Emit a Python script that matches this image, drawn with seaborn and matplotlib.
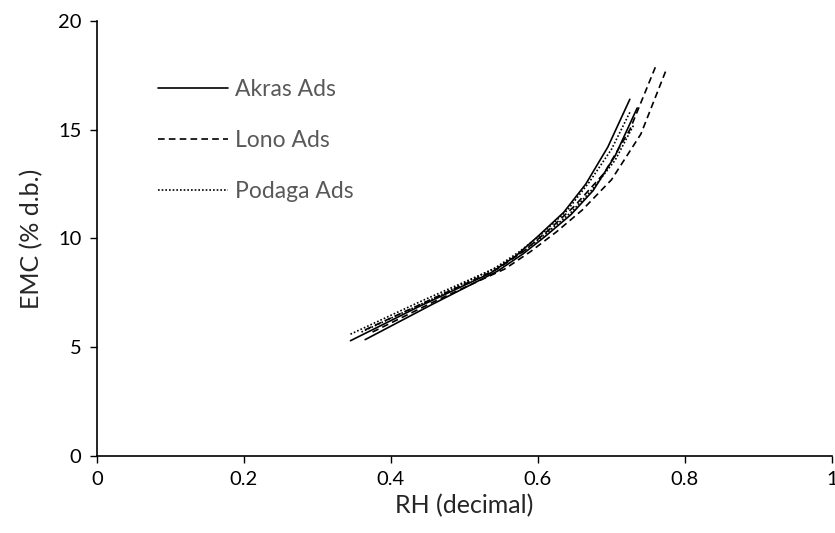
import matplotlib
matplotlib.use("Agg")
import matplotlib.pyplot as plt
import seaborn as sns
import pandas as pd

# RH (decimal) and EMC (% d.b.), two curves per material
akras1_rh = [0.345, 0.44, 0.535, 0.57, 0.60, 0.635, 0.665, 0.695, 0.725]
akras1_emc = [5.3, 6.9, 8.4, 9.2, 10.1, 11.2, 12.5, 14.2, 16.4]
akras2_rh = [0.365, 0.455, 0.545, 0.58, 0.61, 0.645, 0.675, 0.705, 0.735]
akras2_emc = [5.35, 6.95, 8.5, 9.3, 10.1, 11.1, 12.2, 13.8, 16.0]
lono1_rh = [0.365, 0.455, 0.545, 0.58, 0.615, 0.65, 0.69, 0.725, 0.76]
lono1_emc = [5.8, 7.2, 8.6, 9.4, 10.4, 11.5, 13.0, 15.0, 17.9]
lono2_rh = [0.375, 0.465, 0.555, 0.59, 0.625, 0.66, 0.70, 0.74, 0.775]
lono2_emc = [5.7, 7.2, 8.6, 9.4, 10.3, 11.3, 12.7, 14.8, 17.8]
podaga1_rh = [0.345, 0.44, 0.54, 0.575, 0.605, 0.64, 0.67, 0.70, 0.725]
podaga1_emc = [5.6, 7.1, 8.6, 9.4, 10.2, 11.3, 12.6, 14.1, 15.8]
podaga2_rh = [0.36, 0.455, 0.545, 0.58, 0.61, 0.645, 0.675, 0.705, 0.73]
podaga2_emc = [5.7, 7.2, 8.7, 9.4, 10.2, 11.2, 12.3, 13.6, 15.2]

materials = ['Akras Ads', 'Lono Ads', 'Podaga Ads']

curves = [
    ('Akras Ads', 'a1', akras1_rh, akras1_emc),
    ('Akras Ads', 'a2', akras2_rh, akras2_emc),
    ('Lono Ads', 'l1', lono1_rh, lono1_emc),
    ('Lono Ads', 'l2', lono2_rh, lono2_emc),
    ('Podaga Ads', 'p1', podaga1_rh, podaga1_emc),
    ('Podaga Ads', 'p2', podaga2_rh, podaga2_emc),
]
rows = []
for mat, cid, rh, emc in curves:
    for x, y in zip(rh, emc):
        rows.append({'material': mat, 'curve': cid, 'RH': x, 'EMC': y})
df = pd.DataFrame(rows)

sns.set_style('white')
plt.rcParams['font.family'] = ['Lato', 'DejaVu Sans']

fig = plt.figure(figsize=(8.35, 5.33), dpi=100)
ax = fig.add_axes([0.116, 0.1445, 0.8804, 0.8161])

sns.lineplot(data=df, x='RH', y='EMC', style='material', units='curve',
             estimator=None, sort=False, color='black', lw=1.2, ax=ax,
             style_order=materials,
             dashes={'Akras Ads': '', 'Lono Ads': (4, 2.5), 'Podaga Ads': (1, 1.2)})

ax.set_xlim(0, 1)
ax.set_ylim(0, 20)
ax.set_xticks([0, 0.2, 0.4, 0.6, 0.8, 1])
ax.set_xticklabels(['0', '0.2', '0.4', '0.6', '0.8', '1'])
ax.set_yticks([0, 5, 10, 15, 20])
ax.tick_params(axis='both', labelsize=14.5, direction='out', length=5, width=1,
               color='black', labelcolor='black', bottom=True, left=True, pad=6)
ax.set_xlabel('RH (decimal)', fontsize=18, labelpad=4)
ax.set_ylabel('EMC (% d.b.)', fontsize=18, labelpad=11)

sns.despine(ax=ax)
for s in ['left', 'bottom']:
    ax.spines[s].set_color('black')
    ax.spines[s].set_linewidth(1.2)

leg = ax.legend(loc='upper left', bbox_to_anchor=(0.068, 0.894), frameon=False,
                fontsize=16.5, handlelength=3.05, labelspacing=1.32,
                handletextpad=0.3, borderpad=0)
for t in leg.get_texts():
    t.set_color('#595959')
for h in leg.get_lines():
    h.set_color('black')
    h.set_linewidth(1.2)

fig.savefig('out.png', dpi=100)
